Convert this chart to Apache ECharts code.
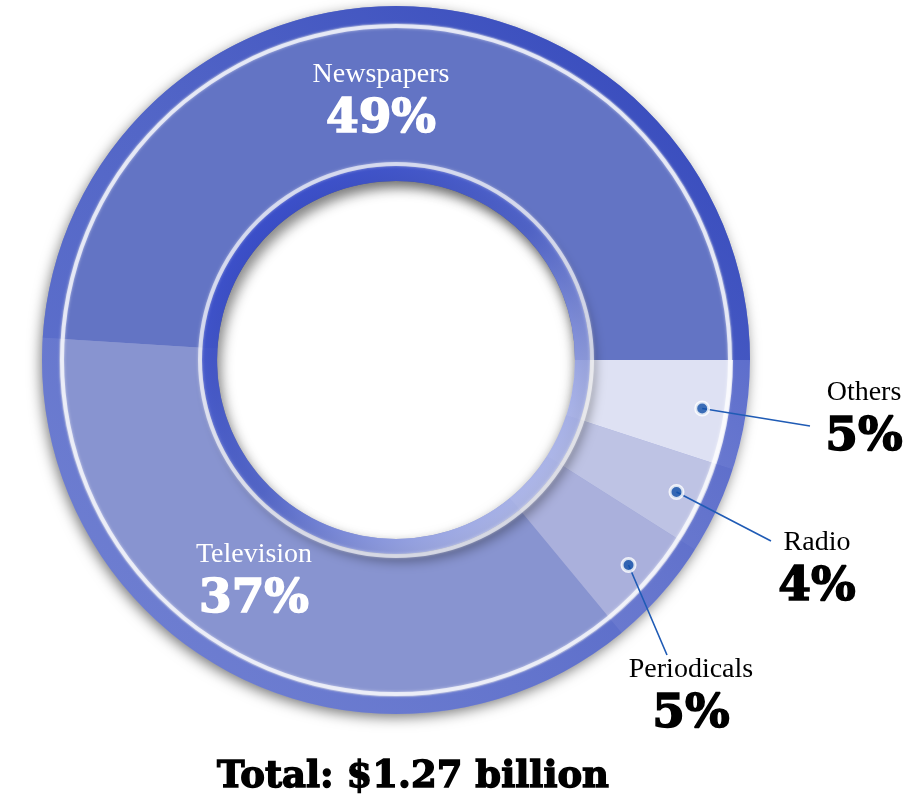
<!DOCTYPE html>
<html>
<head>
<meta charset="utf-8">
<script src="https://cdn.jsdelivr.net/npm/echarts@6/dist/echarts.min.js"></script>
<style>
  html, body { margin: 0; padding: 0; background: #ffffff; }
  #chart { width: 913px; height: 801px; }
</style>
</head>
<body>
<div id="chart"></div>
<script>
// Advertising spend by medium (percent of total)
const categories = ['Newspapers', 'Television', 'Periodicals', 'Radio', 'Others'];
const shares = [49, 37, 5, 4, 5];
const totalLabel = 'Total: $1.27 billion';

// Geometry and styling
const CX = 396, CY = 360, R_OUT = 354, R_IN = 179;
const DOT_R = 310;
const sliceColors = ['#6374c4', '#8894d0', '#aab0dc', '#bec3e4', '#dee1f3'];
const insideLabel = [true, true, false, false, false];
const labelAnchor = [[381, 103], [254, 583], [691, 698], [817, 571], [864, 421]];
const lineEnd = [null, null, [667, 655], [771, 541], [810, 426]];

let acc = 0;
const mids = shares.map(v => { const m = acc + v / 2; acc += v; return m; });
const sum = acc;

function dotPoint(i) {
  const a = mids[i] / sum * Math.PI * 2;
  return [CX + DOT_R * Math.cos(a), CY - DOT_R * Math.sin(a)];
}

function richFor(color) {
  return {
    n: { fontFamily: '"Liberation Serif"', fontSize: 28, lineHeight: 34, align: 'center', color: color },
    p: {
      fontFamily: '"DejaVu Serif"', fontWeight: 'bold', fontSize: 47, lineHeight: 56, align: 'center',
      color: color, textBorderColor: color, textBorderWidth: 1.6
    }
  };
}

const pieData = categories.map((name, i) => ({
  name: name,
  value: shares[i],
  itemStyle: { color: sliceColors[i] }
}));

const labelData = categories.map((name, i) => {
  const c = insideLabel[i] ? '#ffffff' : '#000000';
  return {
    name: name,
    value: shares[i],
    itemStyle: { color: 'rgba(0,0,0,0)' },
    label: { color: c, rich: richFor(c) },
    labelLine: { show: !insideLabel[i] }
  };
});

const dotData = categories
  .map((name, i) => insideLabel[i] ? null : { name: name, value: [DOT_R, mids[i]] })
  .filter(Boolean);

const chart = echarts.init(document.getElementById('chart'), null, { renderer: 'canvas' });

const ringShape = (r0, r) => ({ cx: CX, cy: CY, r0: r0, r: r });

chart.setOption({
  backgroundColor: '#ffffff',
  animation: false,
  polar: { center: [CX, CY], radius: R_OUT },
  angleAxis: { type: 'value', min: 0, max: sum, startAngle: 0, clockwise: false, show: false },
  radiusAxis: { type: 'value', min: 0, max: R_OUT, show: false },
  graphic: [
    // drop shadow under the ring
    {
      type: 'ring', z: 1, silent: true,
      shape: ringShape(R_IN + 4, R_OUT - 1),
      style: { fill: '#8a95d0', shadowBlur: 14, shadowOffsetX: -2, shadowOffsetY: 4, shadowColor: 'rgba(0,0,0,0.55)' }
    },
    // outer bevel
    {
      type: 'ring', z: 3, silent: true,
      shape: ringShape(337, R_OUT),
      style: {
        fill: {
          type: 'linear', x: 1, y: 0, x2: 0, y2: 1,
          colorStops: [
            { offset: 0, color: 'rgba(40,60,185,0.85)' },
            { offset: 0.5, color: 'rgba(75,95,200,0.7)' },
            { offset: 1, color: 'rgba(100,118,212,0.6)' }
          ]
        }
      }
    },
    {
      type: 'ring', z: 3, silent: true,
      shape: ringShape(332, 336),
      style: { fill: 'rgba(255,255,255,0.7)', shadowBlur: 3, shadowColor: 'rgba(255,255,255,0.8)' }
    },
    // inner bevel
    {
      type: 'ring', z: 3, silent: true,
      shape: ringShape(R_IN, 194),
      style: {
        fill: {
          type: 'linear', x: 0, y: 0, x2: 1, y2: 1,
          colorStops: [
            { offset: 0, color: 'rgba(45,65,200,0.95)' },
            { offset: 0.5, color: 'rgba(80,100,205,0.85)' },
            { offset: 1, color: 'rgba(220,225,250,0.85)' }
          ]
        },
        shadowBlur: 12, shadowOffsetX: 5, shadowOffsetY: 8, shadowColor: 'rgba(0,0,0,0.4)'
      }
    },
    {
      type: 'ring', z: 3, silent: true,
      shape: ringShape(194, 198),
      style: { fill: 'rgba(255,255,255,0.6)', shadowBlur: 3, shadowColor: 'rgba(255,255,255,0.7)' }
    },
    // total
    {
      type: 'text', z: 6, silent: true,
      style: {
        text: totalLabel, x: 413, y: 777,
        align: 'center', verticalAlign: 'middle',
        font: 'bold 37px "DejaVu Serif"', fill: '#000000',
        stroke: '#000000', lineWidth: 1.4
      }
    }
  ],
  series: [
    {
      type: 'pie', z: 2, silent: true,
      center: [CX, CY], radius: [R_IN, R_OUT],
      startAngle: 0, clockwise: false,
      label: { show: false }, labelLine: { show: false },
      emphasis: { disabled: true },
      data: pieData
    },
    {
      type: 'pie', z: 4, silent: true,
      center: [CX, CY], radius: [R_IN, R_OUT],
      startAngle: 0, clockwise: false,
      avoidLabelOverlap: false,
      emphasis: { disabled: true },
      label: {
        show: true, position: 'outside',
        formatter: p => '{n|' + p.name + '}\n{p|' + p.value + '%}',
        rich: richFor('#000000')
      },
      labelLine: { show: true, lineStyle: { color: '#1f5bb5', width: 1.6 } },
      labelLayout: function (params) {
        const i = params.dataIndex;
        const out = { x: labelAnchor[i][0], y: labelAnchor[i][1], align: 'center', verticalAlign: 'middle' };
        if (!insideLabel[i]) {
          const d = dotPoint(i);
          const e = lineEnd[i];
          out.labelLinePoints = [d, [(d[0] + e[0]) / 2, (d[1] + e[1]) / 2], e];
        }
        return out;
      },
      data: labelData
    },
    {
      type: 'scatter', z: 5, silent: true,
      coordinateSystem: 'polar',
      symbol: 'circle', symbolSize: 13,
      itemStyle: { color: '#1250a8', borderColor: '#ffffff', borderWidth: 3 },
      data: dotData
    }
  ]
});
</script>
</body>
</html>
